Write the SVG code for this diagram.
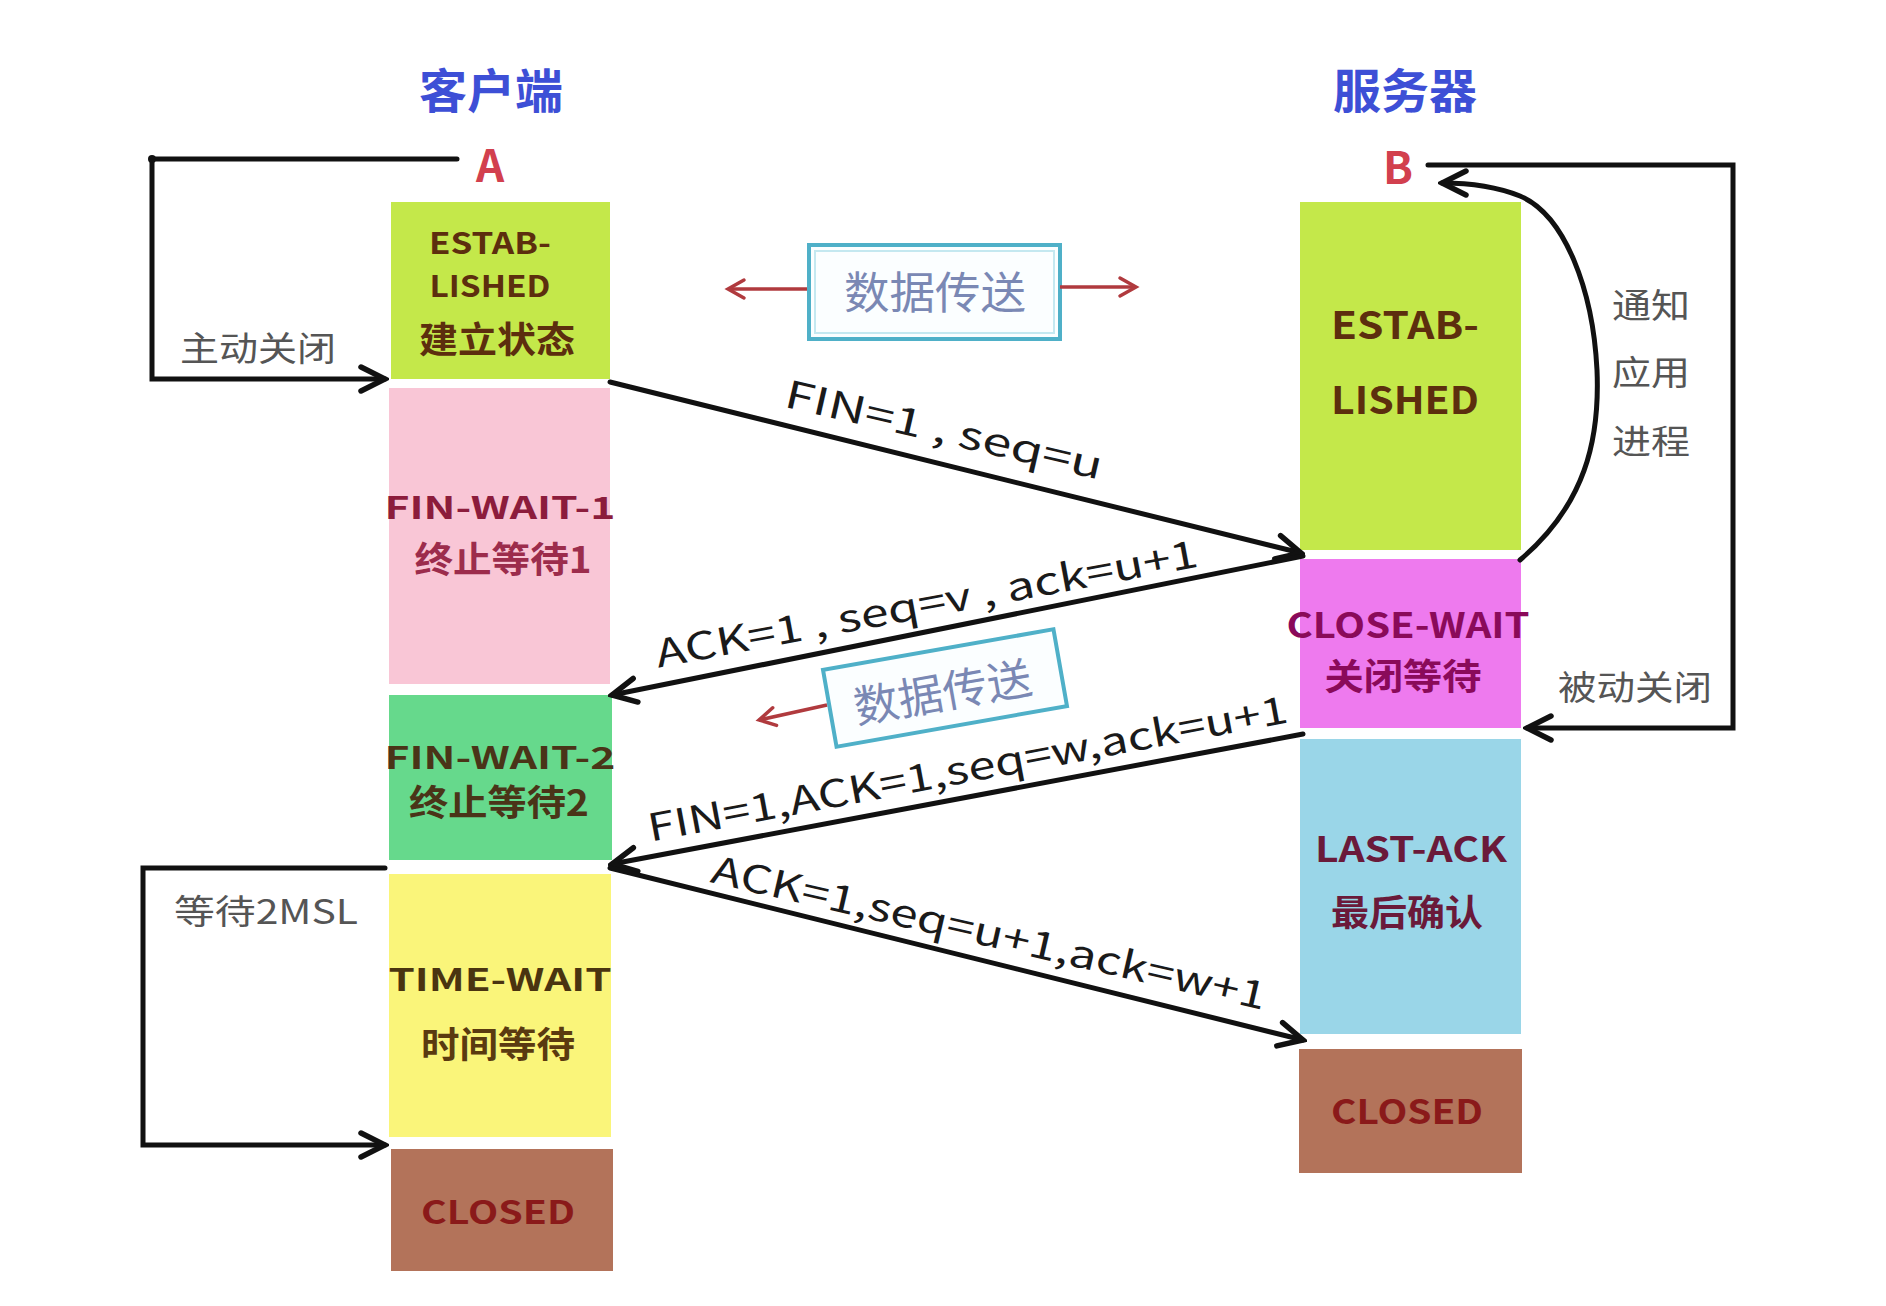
<svg xmlns="http://www.w3.org/2000/svg" width="1886" height="1306" viewBox="0 0 1886 1306">
<defs>
<style>
.t{font-family:"Noto Sans CJK SC","Noto Sans",sans-serif;text-anchor:middle;dominant-baseline:central}
.b{font-weight:bold}
.title{font-size:47px;fill:#3d4fd6;font-weight:bold}
.ab{font-size:44px;fill:#d2404e;font-weight:bold}
.side{font-size:34px;fill:#555555}
.lbl{font-family:"Noto Sans CJK SC","Noto Sans",sans-serif;font-size:38px;fill:#1a1a1a;text-anchor:middle}
.conn{fill:none;stroke:#111111;stroke-width:5;stroke-linecap:round;stroke-linejoin:miter}
.red{fill:none;stroke:#b03a3e;stroke-width:3.5}
.dbox{fill:#fbfeff;stroke:#4fb0c8;stroke-width:4}
.dtxt{font-size:44px;fill:#7a88b4}
</style>
<marker id="arr" viewBox="-30 -16 34 32" refX="0" refY="0" markerWidth="34" markerHeight="32" markerUnits="userSpaceOnUse" orient="auto">
<path d="M-24,-12 L0,0 L-24,12" fill="none" stroke="#111111" stroke-width="5.5" stroke-linecap="round" stroke-linejoin="miter"/>
</marker>
<marker id="arrR" viewBox="-22 -12 26 24" refX="0" refY="0" markerWidth="26" markerHeight="24" markerUnits="userSpaceOnUse" orient="auto">
<path d="M-16,-9 L0,0 L-16,9" fill="none" stroke="#b03a3e" stroke-width="3.5" stroke-linecap="round"/>
</marker>
</defs>
<rect width="1886" height="1306" fill="#ffffff"/>

<g id="titles">
<text class="t title" x="491" y="87" textLength="144" lengthAdjust="spacingAndGlyphs">客户端</text>
<text class="t title" x="1405" y="87" textLength="144" lengthAdjust="spacingAndGlyphs">服务器</text>
<text class="t ab" x="490" y="163">A</text>
<text class="t ab" x="1398" y="165">B</text>
</g>

<g id="client-established">
<rect x="391" y="202" width="219" height="177" fill="#c4e84a"/>
<text class="t b" x="490" y="241" font-size="30" fill="#5c2e0e" textLength="122" lengthAdjust="spacingAndGlyphs">ESTAB-</text>
<text class="t b" x="490" y="284" font-size="30" fill="#5c2e0e" textLength="121" lengthAdjust="spacingAndGlyphs">LISHED</text>
<text class="t b" x="497" y="337" font-size="36" fill="#5c2e0e" textLength="156" lengthAdjust="spacingAndGlyphs">建立状态</text>
</g>

<g id="client-fin-wait-1">
<rect x="389" y="388" width="221" height="296" fill="#f9c6d6"/>
<text class="t b" x="500" y="505" font-size="31" fill="#8c1c3c" textLength="231" lengthAdjust="spacingAndGlyphs">FIN-WAIT-1</text>
<text class="t b" x="503" y="557" font-size="36" fill="#9c2c4c" textLength="177" lengthAdjust="spacingAndGlyphs">终止等待1</text>
</g>

<g id="client-fin-wait-2">
<rect x="389" y="695" width="223" height="165" fill="#66d98c"/>
<text class="t b" x="500" y="755" font-size="31" fill="#4a3418" textLength="231" lengthAdjust="spacingAndGlyphs">FIN-WAIT-2</text>
<text class="t b" x="499" y="800" font-size="36" fill="#4a3418" textLength="180" lengthAdjust="spacingAndGlyphs">终止等待2</text>
</g>

<g id="client-time-wait">
<rect x="389" y="874" width="222" height="263" fill="#faf57a"/>
<text class="t b" x="500" y="977" font-size="31" fill="#4a3410" textLength="223" lengthAdjust="spacingAndGlyphs">TIME-WAIT</text>
<text class="t b" x="498" y="1042" font-size="36" fill="#5a3a10" textLength="154" lengthAdjust="spacingAndGlyphs">时间等待</text>
</g>

<g id="client-closed">
<rect x="391" y="1149" width="222" height="122" fill="#b3735a"/>
<text class="t b" x="498" y="1210" font-size="32" fill="#8a1a1a" textLength="154" lengthAdjust="spacingAndGlyphs">CLOSED</text>
</g>

<g id="server-established">
<rect x="1300" y="202" width="221" height="348" fill="#c4e84a"/>
<text class="t b" x="1405" y="322" font-size="38" fill="#5c2e0e" textLength="148" lengthAdjust="spacingAndGlyphs">ESTAB-</text>
<text class="t b" x="1405" y="397" font-size="38" fill="#5c2e0e" textLength="148" lengthAdjust="spacingAndGlyphs">LISHED</text>
</g>

<g id="server-close-wait">
<rect x="1300" y="559" width="221" height="169" fill="#ee7aee"/>
<text class="t b" x="1408" y="622" font-size="35" fill="#8a0a5a" textLength="243" lengthAdjust="spacingAndGlyphs">CLOSE-WAIT</text>
<text class="t b" x="1403" y="674" font-size="36" fill="#8a0a5a" textLength="157" lengthAdjust="spacingAndGlyphs">关闭等待</text>
</g>

<g id="server-last-ack">
<rect x="1300" y="739" width="221" height="295" fill="#9ad6e8"/>
<text class="t b" x="1411" y="846" font-size="35" fill="#6a1a3a" textLength="192" lengthAdjust="spacingAndGlyphs">LAST-ACK</text>
<text class="t b" x="1407" y="910" font-size="36" fill="#6a1a3a" textLength="152" lengthAdjust="spacingAndGlyphs">最后确认</text>
</g>

<g id="server-closed">
<rect x="1299" y="1049" width="223" height="124" fill="#b3735a"/>
<text class="t b" x="1407" y="1109" font-size="34" fill="#8a1a1a" textLength="152" lengthAdjust="spacingAndGlyphs">CLOSED</text>
</g>

<g id="data-transfer-top">
<rect class="dbox" x="809" y="245" width="251" height="94"/>
<rect x="815" y="251" width="239" height="82" fill="none" stroke="#c4e8f0" stroke-width="2"/>
<text class="t dtxt" x="935" y="290" textLength="182" lengthAdjust="spacingAndGlyphs">数据传送</text>
</g>

<g id="data-transfer-mid" transform="rotate(-10 945 688)">
<rect class="dbox" x="828" y="649" width="234" height="78"/>
<text class="t dtxt" x="942" y="689" font-size="42" textLength="180" lengthAdjust="spacingAndGlyphs">数据传送</text>
</g>

<g id="side-labels">
<text class="t side" x="258" y="346" textLength="156" lengthAdjust="spacingAndGlyphs">主动关闭</text>
<text class="t side" x="266" y="909" textLength="184" lengthAdjust="spacingAndGlyphs">等待2MSL</text>
<text class="t side" x="1635" y="685" textLength="154" lengthAdjust="spacingAndGlyphs">被动关闭</text>
<text class="t side" x="1651" y="303" textLength="78" lengthAdjust="spacingAndGlyphs">通知</text>
<text class="t side" x="1651" y="370" textLength="78" lengthAdjust="spacingAndGlyphs">应用</text>
<text class="t side" x="1651" y="439" textLength="78" lengthAdjust="spacingAndGlyphs">进程</text>
</g>

<g id="connectors">
<path class="conn" d="M457,159 H152 V379 H385" marker-end="url(#arr)"/>
<circle cx="152" cy="159" r="4" fill="#111111"/>
<path class="conn" d="M385,868 H143 V1145 H385" marker-end="url(#arr)"/>
<path class="conn" d="M1428,165 H1733 V728 H1527" marker-end="url(#arr)"/>
<path class="conn" d="M1520,560 C1585,505 1600,440 1597,370 C1593,290 1565,215 1520,196 C1495,186 1470,183 1442,183" marker-end="url(#arr)"/>
<path class="conn" d="M610,382 L1301,553" marker-end="url(#arr)"/>
<path class="conn" d="M1303,556 L612,695" marker-end="url(#arr)"/>
<path class="conn" d="M1303,734 L612,864" marker-end="url(#arr)"/>
<path class="conn" d="M610,868 L1303,1040" marker-end="url(#arr)"/>
<path class="red" d="M807,289 H728" marker-end="url(#arrR)"/>
<path class="red" d="M1060,287 H1136" marker-end="url(#arrR)"/>
<path class="red" d="M827,705 L759,720" marker-end="url(#arrR)"/>
</g>

<g id="connector-labels">
<text class="lbl" x="941" y="443" transform="rotate(13 941 443)" textLength="325" lengthAdjust="spacingAndGlyphs">FIN=1 , seq=u</text>
<text class="lbl" x="929" y="617" transform="rotate(-10.6 929 617)" textLength="551" lengthAdjust="spacingAndGlyphs">ACK=1 , seq=v , ack=u+1</text>
<text class="lbl" x="970" y="782" transform="rotate(-10.6 970 782)" textLength="650" lengthAdjust="spacingAndGlyphs">FIN=1,ACK=1,seq=w,ack=u+1</text>
<text class="lbl" x="986" y="946" transform="rotate(13 986 946)" textLength="568" lengthAdjust="spacingAndGlyphs">ACK=1,seq=u+1,ack=w+1</text>
</g>
</svg>
